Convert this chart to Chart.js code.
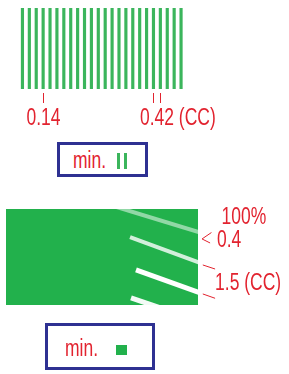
<!DOCTYPE html>
<html>
<head>
<meta charset="utf-8">
<script src="https://cdn.jsdelivr.net/npm/chart.js@4/dist/chart.umd.min.js"></script>
<style>
  body { margin: 0; width: 289px; height: 374px; background: #fff; position: relative; overflow: hidden; font-family: "Liberation Sans", Arial, sans-serif; }
  canvas { position: absolute; left: 0; }
  .box { position: absolute; box-sizing: border-box; border: 3px solid #2e3192; }
  .txt { position: absolute; color: #e2232f; font-size: 23px; line-height: 23px; transform: scaleX(0.76); transform-origin: left top; }
  .bar { position: absolute; width: 2.5px; background: #3bb55c; }
  .sq { position: absolute; background: #22b14c; }
</style>
</head>
<body>
<canvas id="chartLines" width="289" height="135" style="top:0"></canvas>
<canvas id="chartBlock" width="289" height="130" style="top:195px"></canvas>

<div class="box" style="left:57px;top:142px;width:91px;height:35px">
  <span class="txt" style="left:13px;top:4px">min.</span>
  <span class="bar" style="left:57px;top:8px;height:16px"></span>
  <span class="bar" style="left:64px;top:8px;height:16px"></span>
</div>
<div class="box" style="left:45px;top:323px;width:110px;height:47px">
  <span class="txt" style="left:17px;top:11px">min.</span>
  <span class="sq" style="left:68px;top:19px;width:11px;height:10px"></span>
</div>

<script>
//Top: line pattern
const lineLabels = ["1","2","3","4","5","6","7","8","9","10","11","12",
                    "13","14","15","16","17","18","19","20","21","22","23","24"];
const lineValues = [1,1,1,1,1,1,1,1,1,1,1,1,1,1,1,1,1,1,1,1,1,1,1,1];
const tickTexts = ["0.14", "0.42"];
const tickSuffix = ["", " (CC)"];
const tickLines = [[3], [19, 20]];

//Bottom: block with stripes
const blockEdge = [{x: 0, y: 100}, {x: 100, y: 100}];
const stripe1 = [{x: 57.5, y: 102.1}, {x: 103.6, y: 74.0}];
const stripe2 = [{x: 64.6, y: 70.8}, {x: 103.6, y: 42.1}];
const stripe3 = [{x: 67.7, y: 36.5}, {x: 103.6, y: 10.9}];
const stripe4 = [{x: 65.1, y: 7.3}, {x: 85.4, y: -6.3}];
const mark1 = [{x: 107.0, y: 75.5}, {x: 102.1, y: 68.8}, {x: 106.3, y: 64.6}];
const mark2 = [{x: 102.5, y: 41.7}, {x: 108.9, y: 37.5}];
const mark3 = [{x: 102.5, y: 11.5}, {x: 108.9, y: 7.0}];
const sideTexts = ["100%", "0.4", "1.5 (CC)"];
const sideX = [112.3, 109.9, 108.9];
const sideY = [90.6, 66.7, 21.9];

const RED = "#e2232f";
const FONT = '23px "Liberation Sans", Arial, sans-serif';
const NARROW = 0.76;

function narrowText(ctx, text, x, y) {
    ctx.save();
    ctx.translate(x, y);
    ctx.scale(NARROW, 1);
    ctx.fillText(text, 0, 0);
    ctx.restore();
}

const tickPlugin = {
    id: "tickPlugin",
    afterDraw(chart) {
        const ctx = chart.ctx;
        const xs = chart.scales.x;
        const bottom = chart.chartArea.bottom;
        ctx.save();
        ctx.strokeStyle = RED;
        ctx.fillStyle = RED;
        ctx.lineWidth = 1;
        ctx.font = FONT;
        tickLines.forEach((idx, i) => {
            let sum = 0;
            idx.forEach(k => {
                const px = Math.round(xs.getPixelForValue(k)) + 0.5;
                sum += px;
                ctx.beginPath();
                ctx.moveTo(px, bottom + 4);
                ctx.lineTo(px, bottom + 14);
                ctx.stroke();
            });
            const cx = sum / idx.length;
            const w = ctx.measureText(tickTexts[i]).width * NARROW;
            narrowText(ctx, tickTexts[i] + tickSuffix[i], cx - w / 2, bottom + 36);
        });
        ctx.restore();
    }
};

new Chart(document.getElementById("chartLines"), {
    type: "bar",
    data: {
        labels: lineLabels,
        datasets: [{
            data: lineValues,
            backgroundColor: "#3bb55c",
            barThickness: 2.5,
        }],
    },
    options: {
        responsive: false,
        animation: false,
        layout: { padding: { left: 19, right: 104.5, top: 8, bottom: 46 } },
        plugins: { legend: { display: false }, tooltip: { enabled: false } },
        scales: {
            x: { display: false },
            y: { display: false, min: 0, max: 1 },
        },
    },
    plugins: [tickPlugin],
});

const sidePlugin = {
    id: "sidePlugin",
    afterDraw(chart) {
        const ctx = chart.ctx;
        ctx.save();
        ctx.fillStyle = RED;
        ctx.font = FONT;
        ctx.textBaseline = "middle";
        sideTexts.forEach((t, i) => {
            narrowText(ctx, t, chart.scales.x.getPixelForValue(sideX[i]),
                chart.scales.y.getPixelForValue(sideY[i]));
        });
        ctx.restore();
    }
};

function stripe(data, color, width) {
    return { data, borderColor: color, borderWidth: width, showLine: true,
             pointRadius: 0, borderCapStyle: "butt", clip: 0 };
}
function mark(data) {
    return { data, borderColor: RED, borderWidth: 1, showLine: true,
             pointRadius: 0, clip: false };
}

new Chart(document.getElementById("chartBlock"), {
    type: "scatter",
    data: {
        datasets: [
            stripe(stripe1, "rgba(255,255,255,0.5)", 4),
            stripe(stripe2, "rgba(255,255,255,0.8)", 4),
            stripe(stripe3, "#ffffff", 5),
            stripe(stripe4, "rgba(255,255,255,0.95)", 5),
            mark(mark1),
            mark(mark2),
            mark(mark3),
            {
                data: blockEdge,
                showLine: true,
                borderWidth: 0,
                pointRadius: 0,
                fill: "origin",
                backgroundColor: "#22b14c",
            },
        ],
    },
    options: {
        responsive: false,
        animation: false,
        layout: { padding: { left: 6, right: 91, top: 14, bottom: 20 } },
        plugins: { legend: { display: false }, tooltip: { enabled: false } },
        scales: {
            x: { display: false, min: 0, max: 100 },
            y: { display: false, min: 0, max: 100 },
        },
    },
    plugins: [sidePlugin],
});
</script>
</body>
</html>
